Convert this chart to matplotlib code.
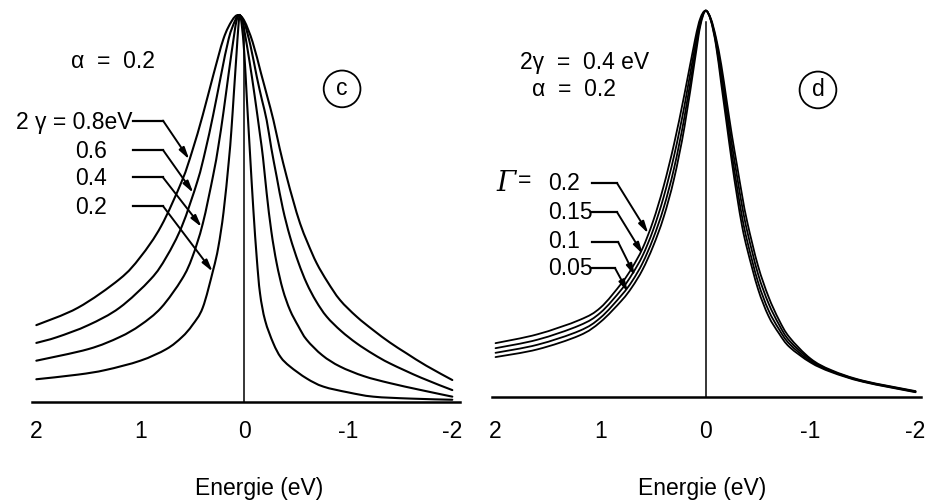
import numpy as np
import matplotlib
matplotlib.use("Agg")
import matplotlib.pyplot as plt
from matplotlib.path import Path
from matplotlib.patches import PathPatch

plt.rcParams['font.family'] = ['Liberation Sans', 'DejaVu Sans']

# ---- panel (c): alpha = 0.2, lifetime widths 2*gamma = 0.8 ... 0.2 eV ----
e_c08 = [2.0, 1.6, 1.2, 1.0, 0.8, 0.6, 0.5, 0.4, 0.3, 0.2, 0.12, 0.06, 0.0, -0.08, -0.16, -0.22,
         -0.28, -0.34, -0.407, -0.47, -0.536, -0.61, -0.696, -0.8, -0.92, -1.08, -1.24, -1.4, -1.56, -1.75, -2.0]
i_c08 = [0.198, 0.243, 0.317, 0.374, 0.454, 0.571, 0.649, 0.741, 0.843, 0.939, 0.985, 1.0, 0.985, 0.93, 0.85, 0.79,
         0.728, 0.655, 0.582, 0.52, 0.461, 0.41, 0.358, 0.31, 0.263, 0.22, 0.185, 0.153, 0.125, 0.093, 0.056]

e_c06 = [2.0, 1.8, 1.5, 1.2, 0.9, 0.75, 0.6, 0.45, 0.375, 0.3, 0.225, 0.15, 0.09, 0.05, 0.0, -0.06, -0.12, -0.17,
         -0.215, -0.26, -0.311, -0.37, -0.439, -0.52, -0.6, -0.69, -0.792, -0.93, -1.08, -1.24, -1.4, -1.7, -2.0]
i_c06 = [0.152, 0.167, 0.198, 0.243, 0.317, 0.374, 0.454, 0.571, 0.649, 0.741, 0.843, 0.939, 0.985, 1.0, 0.98, 0.92, 0.84, 0.78,
         0.728, 0.655, 0.582, 0.50, 0.427, 0.36, 0.306, 0.26, 0.22, 0.183, 0.151, 0.123, 0.099, 0.062, 0.030]

e_c04 = [2.0, 1.5, 1.2, 1.0, 0.8, 0.6, 0.5, 0.4, 0.3, 0.25, 0.2, 0.15, 0.1, 0.075, 0.05, 0.02, 0.0, -0.05, -0.1,
         -0.151, -0.18, -0.215, -0.26, -0.311, -0.37, -0.439, -0.52, -0.6, -0.75, -0.92, -1.15, -1.4, -1.7, -2.0]
i_c04 = [0.106, 0.136, 0.167, 0.198, 0.243, 0.317, 0.374, 0.46, 0.585, 0.66, 0.75, 0.85, 0.945, 0.985, 1.0, 0.985, 0.96, 0.88, 0.79,
         0.69, 0.63, 0.539, 0.44, 0.358, 0.29, 0.237, 0.195, 0.160, 0.12, 0.091, 0.066, 0.048, 0.030, 0.013]

e_c02 = [2.0, 1.6, 1.333, 1.0, 0.75, 0.6, 0.5, 0.4, 0.3, 0.25, 0.2, 0.15, 0.125, 0.1, 0.075, 0.06, 0.045, 0.025, 0.0,
         -0.025, -0.055, -0.087, -0.12, -0.151, -0.2, -0.279, -0.35, -0.439, -0.6, -0.76, -1.0, -1.24, -1.6, -2.0]
i_c02 = [0.058, 0.070, 0.082, 0.106, 0.136, 0.167, 0.198, 0.243, 0.34, 0.40, 0.49, 0.62, 0.70, 0.80, 0.90, 0.96, 1.0, 0.975, 0.90,
         0.78, 0.64, 0.496, 0.37, 0.28, 0.21, 0.151, 0.115, 0.091, 0.06, 0.039, 0.024, 0.013, 0.008, 0.005]

# ---- panel (d): 2*gamma = 0.4 eV, alpha = 0.2, Gaussian broadening Gamma ----
e_d = [2.0, 1.6, 1.2, 1.0, 0.8, 0.7, 0.6, 0.5, 0.4, 0.3, 0.2, 0.1, 0.05, 0.0, -0.05, -0.1, -0.15,
       -0.2, -0.25, -0.3, -0.35, -0.4, -0.5, -0.6, -0.7, -0.8, -1.0, -1.2, -1.5, -2.0]
i_d020 = [0.140, 0.163, 0.200, 0.232, 0.295, 0.335, 0.385, 0.455, 0.545, 0.655, 0.785, 0.925, 0.980, 1.0, 0.980, 0.930, 0.860,
          0.770, 0.680, 0.600, 0.520, 0.450, 0.340, 0.260, 0.200, 0.155, 0.100, 0.070, 0.043, 0.016]
i_d015 = [0.127, 0.149, 0.186, 0.219, 0.279, 0.318, 0.366, 0.432, 0.517, 0.624, 0.755, 0.908, 0.973, 1.0, 0.978, 0.923, 0.843,
          0.749, 0.656, 0.572, 0.492, 0.426, 0.319, 0.243, 0.188, 0.146, 0.097, 0.068, 0.042, 0.015]
i_d010 = [0.115, 0.136, 0.172, 0.206, 0.264, 0.300, 0.347, 0.410, 0.489, 0.592, 0.726, 0.890, 0.966, 1.0, 0.976, 0.916, 0.825,
          0.728, 0.631, 0.544, 0.464, 0.401, 0.298, 0.225, 0.176, 0.138, 0.093, 0.067, 0.041, 0.014]
i_d005 = [0.104, 0.124, 0.160, 0.195, 0.250, 0.285, 0.330, 0.390, 0.465, 0.565, 0.700, 0.875, 0.960, 1.0, 0.975, 0.910, 0.810,
          0.710, 0.610, 0.520, 0.440, 0.380, 0.280, 0.210, 0.165, 0.130, 0.090, 0.065, 0.040, 0.013]

labels_c = ["0.8", "0.6", "0.4", "0.2"]
labels_d = ["0.2", "0.15", "0.1", "0.05"]
ticks = [2, 1, 0, -1, -2]
tick_text = ["2", "1", "0", "-1", "-2"]

W, H = 937, 504
fig = plt.figure(figsize=(W / 100, H / 100), dpi=100)


def add_axes_px(x0, x1, y0, y1):
    return fig.add_axes([x0 / W, 1 - y1 / H, (x1 - x0) / W, (y1 - y0) / H])


def smooth_curve(ax, x, y, lw):
    """Draw a curve through the given points as a chain of cubic Bezier segments."""
    pts = np.column_stack([x, y]).astype(float)
    verts = [pts[0]]
    codes = [Path.MOVETO]
    n = len(pts)
    for k in range(n - 1):
        p0 = pts[k - 1] if k > 0 else pts[k]
        p1, p2 = pts[k], pts[k + 1]
        p3 = pts[k + 2] if k + 2 < n else pts[k + 1]
        verts += [p1 + (p2 - p0) / 6.0, p2 - (p3 - p1) / 6.0, p2]
        codes += [Path.CURVE4] * 3
    ax.add_patch(PathPatch(Path(verts, codes), fc='none', ec='black', lw=lw,
                           capstyle='round', joinstyle='round'))


FS = 16.5
LW = 1.5

ax_c = add_axes_px(20, 470, 5, 410)
ax_c.set_xlim(2.157, -2.170)
ax_c.set_ylim(-0.0215, 1.026)

ax_d = add_axes_px(480, 930, 5, 410)
ax_d.set_xlim(2.148, -2.138)
ax_d.set_ylim(-0.0329, 1.0147)

for ax in (ax_c, ax_d):
    for s in ax.spines.values():
        s.set_visible(False)
    ax.set_yticks([])
    ax.set_xticks(ticks)
    ax.set_xticklabels(tick_text, fontsize=FS, va='center')
    ax.tick_params(axis='x', length=0, pad=15.5)
    ax.patch.set_alpha(0)

curves_c = [(e_c08, i_c08), (e_c06, i_c06), (e_c04, i_c04), (e_c02, i_c02)]
for e, i in curves_c:
    smooth_curve(ax_c, e, i, LW)
ax_c.plot([2.04, -2.07], [0, 0], color='black', lw=1.8)
ax_c.plot([0, 0], [0, 0.97], color='black', lw=1.1)

curves_d = [i_d020, i_d015, i_d010, i_d005]
for i in curves_d:
    smooth_curve(ax_d, e_d, i, 1.3)
ax_d.plot([2.03, -2.05], [0, 0], color='black', lw=1.8)
ax_d.plot([0, 0], [0, 0.97], color='black', lw=1.1)

ARROW = dict(arrowstyle='-|>,head_length=0.7,head_width=0.18',
             color='black', lw=1.4, shrinkA=0, shrinkB=0)

# annotations, panel (c)
ax_c.text(1.262, 0.881, "α  =  0.2", fontsize=FS, ha='center', va='center')
ax_c.text(-0.94, 0.809, "c", fontsize=FS, ha='center', va='center',
          bbox=dict(boxstyle='circle,pad=0.3', fc='none', ec='black', lw=1.3))
ax_c.text(1.075, 0.722, "2 γ = 0.8eV", fontsize=FS, ha='right', va='center')
rows_c = [0.727, 0.651, 0.580, 0.506]
tips_c = [0.529, 0.490, 0.410, 0.304]
for k, (lab, yrow, etip, (e, i)) in enumerate(zip(labels_c, rows_c, tips_c, curves_c)):
    if k > 0:
        ax_c.text(1.625, yrow - 0.003, lab, fontsize=FS, ha='left', va='center')
    htip = np.interp(-etip, -np.asarray(e), np.asarray(i))
    ax_c.plot([1.070, 0.782], [yrow, yrow], color='black', lw=1.6)
    ax_c.annotate("", xy=(etip, htip), xytext=(0.782, yrow), arrowprops=ARROW)

# annotations, panel (d)
ax_d.text(1.148, 0.865, "2γ  =  0.4 eV", fontsize=FS, ha='center', va='center')
ax_d.text(1.252, 0.797, "α  =  0.2", fontsize=FS, ha='center', va='center')
ax_d.text(-1.071, 0.795, "d", fontsize=FS, ha='center', va='center',
          bbox=dict(boxstyle='circle,pad=0.3', fc='none', ec='black', lw=1.3))
ax_d.text(1.90, 0.554, "Γ", fontsize=20, style='italic', ha='center', va='center',
          family=['DejaVu Serif'])
ax_d.text(1.72, 0.560, "=", fontsize=FS, ha='center', va='center')
rows_d = [0.554, 0.479, 0.402, 0.334]
elbow_d = [0.843, 0.843, 0.833, 0.862]
tips_d = [0.545, 0.595, 0.671, 0.738]
for lab, yrow, eel, etip, i in zip(labels_d, rows_d, elbow_d, tips_d, curves_d):
    ax_d.text(1.50, yrow, lab, fontsize=FS, ha='left', va='center')
    htip = np.interp(-etip, -np.asarray(e_d), np.asarray(i))
    ax_d.plot([1.081, eel], [yrow, yrow], color='black', lw=1.6)
    ax_d.annotate("", xy=(etip, htip), xytext=(eel, yrow), arrowprops=ARROW)

fig.text(259 / W, 1 - 489 / H, "Energie (eV)", fontsize=FS, ha='center', va='center')
fig.text(702 / W, 1 - 489 / H, "Energie (eV)", fontsize=FS, ha='center', va='center')

fig.savefig("out.png", dpi=100)
